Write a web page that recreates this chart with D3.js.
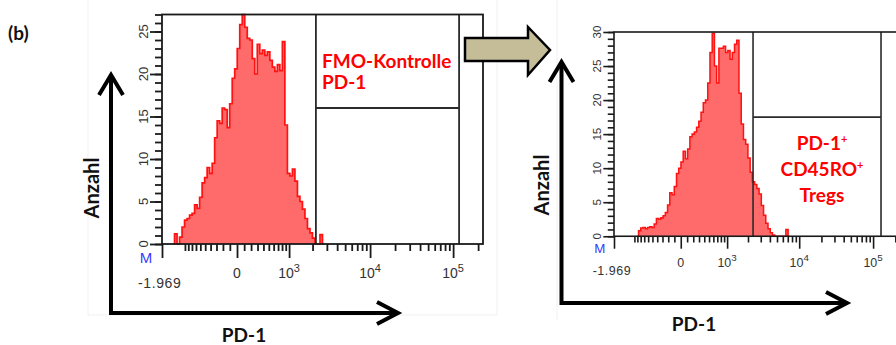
<!DOCTYPE html>
<html>
<head>
<meta charset="utf-8">
<script src="https://cdn.jsdelivr.net/npm/d3@7"></script>
<style>
    html, body { margin: 0; padding: 0; background: #fff; }
    svg { display: block; font-family: 'Liberation Sans', Arial, sans-serif; }
    .big { font-family: Lato, 'Open Sans', sans-serif; font-weight: 700; }
</style>
</head>
<body>
<div id="chart"></div>
<script>
'use strict';

// ------------ DATA ---------------- //

// histogram channels (FlowJo style, 128 bins over the PD-1 axis)
const BIN_COUNT = 128;

// FMO control, counts per bin starting at bin fmoStart
const fmoStart  = 4;
const fmoCounts = [
    0, 1.2, 0, 0.8, 2.0, 2.8, 3.0, 3.4, 3.6, 4.6, 4.2, 5.5, 7.2, 7.8, 9.0, 8.3,
    9.5, 12.5, 14.5, 14.2, 16.0, 15.8, 13.7, 16.5, 19.5, 20.6, 23.0, 25.8, 27.0, 25.5, 24.2, 24.0,
    21.8, 20.0, 23.5, 22.4, 22.8, 22.2, 22.6, 21.6, 20.8, 20.3, 21.1, 20.4, 23.8, 14.0, 8.3, 8.0,
    8.8, 7.4, 5.6, 5.0, 4.1, 3.0, 1.8, 1.3, 0.7, 0, 0, 1.1, 0
];

// PD-1+ CD45RO+ Tregs, counts per bin starting at bin tregStart
const tregStart  = 10;
const tregCounts = [
    0, 0.8, 1.2, 1.3, 1.1, 1.3, 1.4, 1.3, 1.8, 2.6, 2.5, 2.7, 3.0, 3.5, 4.6, 6.4,
    6.1, 7.3, 9.2, 10.0, 10.9, 12.5, 11.4, 12.8, 14.6, 15.0, 15.3, 16.0, 16.9, 18.2, 19.6, 20.0,
    22.5, 27.0, 29.8, 25.0, 22.5, 27.6, 27.6, 27.9, 27.0, 27.3, 26.0, 27.0, 28.2, 28.8, 21.0, 16.5,
    14.2, 13.5, 11.5, 9.4, 8.0, 7.6, 7.0, 6.2, 4.5, 3.1, 1.9, 1.1, 0.5, 0.2, 0, 0,
    0, 0, 0, 1.0, 0
];

// y axis maxima (count)
const fmoYMax  = 27;
const tregYMax = 30;

// gates: [low PD-1, high PD-1, count split]
const fmoGate  = [2200, 118000, 16];
const tregGate = [2350, 128000, 17.5];

// PD-1 axis (logicle-like)
const X_MIN       = -1969;
const X_MAX       = 229000;
const X_MIN_LABEL = '-1.969';
const xMajor      = [0, 1e3, 1e4, 1e5];
const xMajorBase  = ['0', '10', '10', '10'];
const xMajorSup   = ['', '3', '4', '5'];
const xMinor      = [
    -1000, -900, -800, -700, -600, -500, -400, -300, -200, -100,
    100, 200, 300, 400, 500, 600, 700, 800, 900,
    2000, 3000, 4000, 5000, 6000, 7000, 8000, 9000,
    20000, 30000, 40000, 50000, 60000, 70000, 80000, 90000,
    200000
];

// texts
const fmoGateText  = ['FMO-Kontrolle', 'PD-1'];
const tregGateText = [['PD-1', '+'], ['CD45RO', '+'], ['Tregs', '']];
const X_TITLE      = 'PD-1';
const Y_TITLE      = 'Anzahl';

// ------------ LAYOUT ---------------- //

const WIDTH  = 896;
const HEIGHT = 345;
const BASE_W = 321;
const BASE_H = 229.5;

const RED_FILL = '#ff6a6a';
const RED_LINE = '#ff1212';
const INK      = '#1a1a1a';

// ------------ DRAWING ---------------- //

const svg = d3.select('#chart')
    .append('svg')
    .attr('width', WIDTH)
    .attr('height', HEIGHT);

// faint frames of the pasted images
const frames = [
    [88, 0, 88, 315], [88, 315, 497, 315], [497, 0, 497, 315],
    [557, 0, 557, 320]
];
svg.selectAll('.frame')
    .data(frames)
    .enter()
    .append('line')
    .attr('x1', d => d[0]).attr('y1', d => d[1])
    .attr('x2', d => d[2]).attr('y2', d => d[3])
    .attr('stroke', '#f1f1f1')
    .attr('stroke-width', 1);

const T = v => Math.asinh(v / 500);

const drawPanel = p => {
    const s = p.scale;
    const w = BASE_W * s;
    const h = BASE_H * s;
    const g = svg.append('g').attr('transform', `translate(${p.x},${p.y})`);

    const xT = d3.scaleLinear().domain([T(X_MIN), T(X_MAX)]).range([0, w]);
    const x  = v => xT(T(v));
    const ch = d3.scaleLinear().domain([0, BIN_COUNT]).range([0, w]);
    const y  = d3.scaleLinear().domain([0, p.yMax]).range([h, 0]);

    const pts = p.counts.map((c, i) => ({bin: p.start + i, c}));

    g.append('path')
        .datum(pts)
        .attr('d', d3.area().x(d => ch(d.bin + 0.5)).y0(h).y1(d => y(d.c)).curve(d3.curveStep))
        .attr('fill', RED_FILL);

    g.append('path')
        .datum(pts)
        .attr('d', d3.line().x(d => ch(d.bin + 0.5)).y(d => y(d.c)).curve(d3.curveStep))
        .attr('fill', 'none')
        .attr('stroke', RED_LINE)
        .attr('stroke-width', 1.7 * s);

    // gate
    const [lo, hi, split] = p.gate;
    const gateLines = [
        [x(lo), 0, x(lo), h],
        [x(hi), 0, x(hi), h],
        [x(lo), y(split), x(hi), y(split)]
    ];
    g.selectAll('.gate')
        .data(gateLines)
        .enter()
        .append('line')
        .attr('x1', d => d[0]).attr('y1', d => d[1])
        .attr('x2', d => d[2]).attr('y2', d => d[3])
        .attr('stroke', '#2a2a2a')
        .attr('stroke-width', 1.8 * s);

    // frame
    g.append('rect')
        .attr('width', w).attr('height', h)
        .attr('fill', 'none')
        .attr('stroke', INK)
        .attr('stroke-width', 1.8 * s);

    // y axis ticks
    const yMinorAxis = d3.axisLeft(y).tickValues(d3.range(0, p.yMax + 1)).tickSize(7 * s).tickFormat('');
    const yMajorAxis = d3.axisLeft(y).tickValues(d3.range(0, p.yMax + 1, 5)).tickSize(12 * s).tickFormat('');
    [yMinorAxis, yMajorAxis].forEach(ax => {
        const a = g.append('g').call(ax);
        a.select('.domain').remove();
        a.selectAll('line').attr('stroke', INK).attr('stroke-width', 1.8 * s);
    });
    g.selectAll('.ylab')
        .data(d3.range(0, p.yMax + 1, 5))
        .enter()
        .append('text')
        .attr('transform', d => `translate(${-19 * s},${y(d)}) rotate(-90)`)
        .attr('text-anchor', 'middle')
        .attr('dy', '0.36em')
        .attr('font-size', 13 * s)
        .attr('fill', '#333')
        .text(d => d);

    // x axis ticks
    const xMinorAxis = d3.axisBottom(xT).tickValues(xMinor.map(T)).tickSize(7 * s).tickFormat('');
    const xMajorAxis = d3.axisBottom(xT).tickValues(xMajor.concat([X_MIN]).map(T)).tickSize(14 * s).tickFormat('');
    [xMinorAxis, xMajorAxis].forEach(ax => {
        const a = g.append('g').attr('transform', `translate(0,${h})`).call(ax);
        a.select('.domain').remove();
        a.selectAll('line').attr('stroke', INK).attr('stroke-width', 1.8 * s);
    });

    const xl = g.selectAll('.xlab')
        .data(xMajor)
        .enter()
        .append('text')
        .attr('x', d => x(d))
        .attr('y', h + 34 * s)
        .attr('text-anchor', 'middle')
        .attr('font-size', 14 * s)
        .attr('fill', '#333');
    xl.append('tspan').text((d, i) => xMajorBase[i]);
    xl.append('tspan')
        .attr('dy', -6 * s)
        .attr('font-size', 11 * s)
        .text((d, i) => xMajorSup[i]);

    g.append('text')
        .attr('x', x(X_MIN) - 16 * s)
        .attr('y', h + 19 * s)
        .attr('text-anchor', 'middle')
        .attr('font-size', 15 * s)
        .attr('fill', '#3a3aff')
        .text('M');

    g.append('text')
        .attr('x', x(X_MIN) - 24 * s)
        .attr('y', h + 44 * s)
        .attr('font-size', 14 * s)
        .attr('letter-spacing', 0.6 * s)
        .attr('fill', '#333')
        .text(X_MIN_LABEL);
};

drawPanel({x: 162, y: 14.5, scale: 1, yMax: fmoYMax, start: fmoStart, counts: fmoCounts, gate: fmoGate});
drawPanel({x: 614, y: 32, scale: 0.89, yMax: tregYMax, start: tregStart, counts: tregCounts, gate: tregGate});

// gate labels
svg.selectAll('.fmo')
    .data(fmoGateText)
    .enter()
    .append('text')
    .attr('class', 'big')
    .attr('x', 322)
    .attr('y', (d, i) => 68 + i * 21)
    .attr('font-size', 19)
    .attr('fill', '#ff0000')
    .text(d => d);

const tl = svg.selectAll('.treg')
    .data(tregGateText)
    .enter()
    .append('text')
    .attr('class', 'big')
    .attr('x', 822)
    .attr('y', (d, i) => 150 + i * 26)
    .attr('text-anchor', 'middle')
    .attr('font-size', 19)
    .attr('fill', '#ff0000');
tl.append('tspan').text(d => d[0]);
tl.append('tspan').attr('dy', -7).attr('font-size', 11).text(d => d[1]);

// axis arrows
const arrows = [
    {vx: 111, top: 75, corner: 313, right: 398, hx: 109},
    {vx: 561.5, top: 62, corner: 303, right: 847, hx: 560}
];
arrows.forEach(a => {
    svg.append('line').attr('x1', a.vx).attr('y1', a.corner + 2).attr('x2', a.vx).attr('y2', a.top + 1)
        .attr('stroke', '#000').attr('stroke-width', 4);
    svg.append('line').attr('x1', a.hx).attr('y1', a.corner).attr('x2', a.right - 1).attr('y2', a.corner)
        .attr('stroke', '#000').attr('stroke-width', 4);
    svg.append('polyline')
        .attr('points', `${a.vx - 12},${a.top + 20} ${a.vx},${a.top} ${a.vx + 12},${a.top + 20}`)
        .attr('fill', 'none').attr('stroke', '#000').attr('stroke-width', 4);
    svg.append('polyline')
        .attr('points', `${a.right - 21},${a.corner - 11} ${a.right},${a.corner} ${a.right - 21},${a.corner + 11}`)
        .attr('fill', 'none').attr('stroke', '#000').attr('stroke-width', 4);
});

// axis titles
[[244, 342], [694, 331]].forEach(([cx, by]) => {
    svg.append('text').attr('class', 'big')
        .attr('x', cx).attr('y', by)
        .attr('text-anchor', 'middle')
        .attr('font-size', 19)
        .attr('fill', '#111')
        .text(X_TITLE);
});
[[92, 188], [542, 185]].forEach(([cx, cy]) => {
    svg.append('text').attr('class', 'big')
        .attr('transform', `translate(${cx},${cy}) rotate(-90)`)
        .attr('text-anchor', 'middle')
        .attr('dy', '0.35em')
        .attr('font-size', 20)
        .attr('fill', '#111')
        .text(Y_TITLE);
});

// panel tag
svg.append('text').attr('class', 'big')
    .attr('x', 8).attr('y', 40)
    .attr('font-size', 19)
    .attr('fill', '#111')
    .text('(b)');

// transition arrow between panels
svg.append('polygon')
    .attr('points', '465,38 528,38 528,27 550,50 528,75 528,61 465,61')
    .attr('fill', '#c4bd97')
    .attr('stroke', '#000')
    .attr('stroke-width', 2.5)
    .attr('stroke-linejoin', 'miter');
</script>
</body>
</html>
